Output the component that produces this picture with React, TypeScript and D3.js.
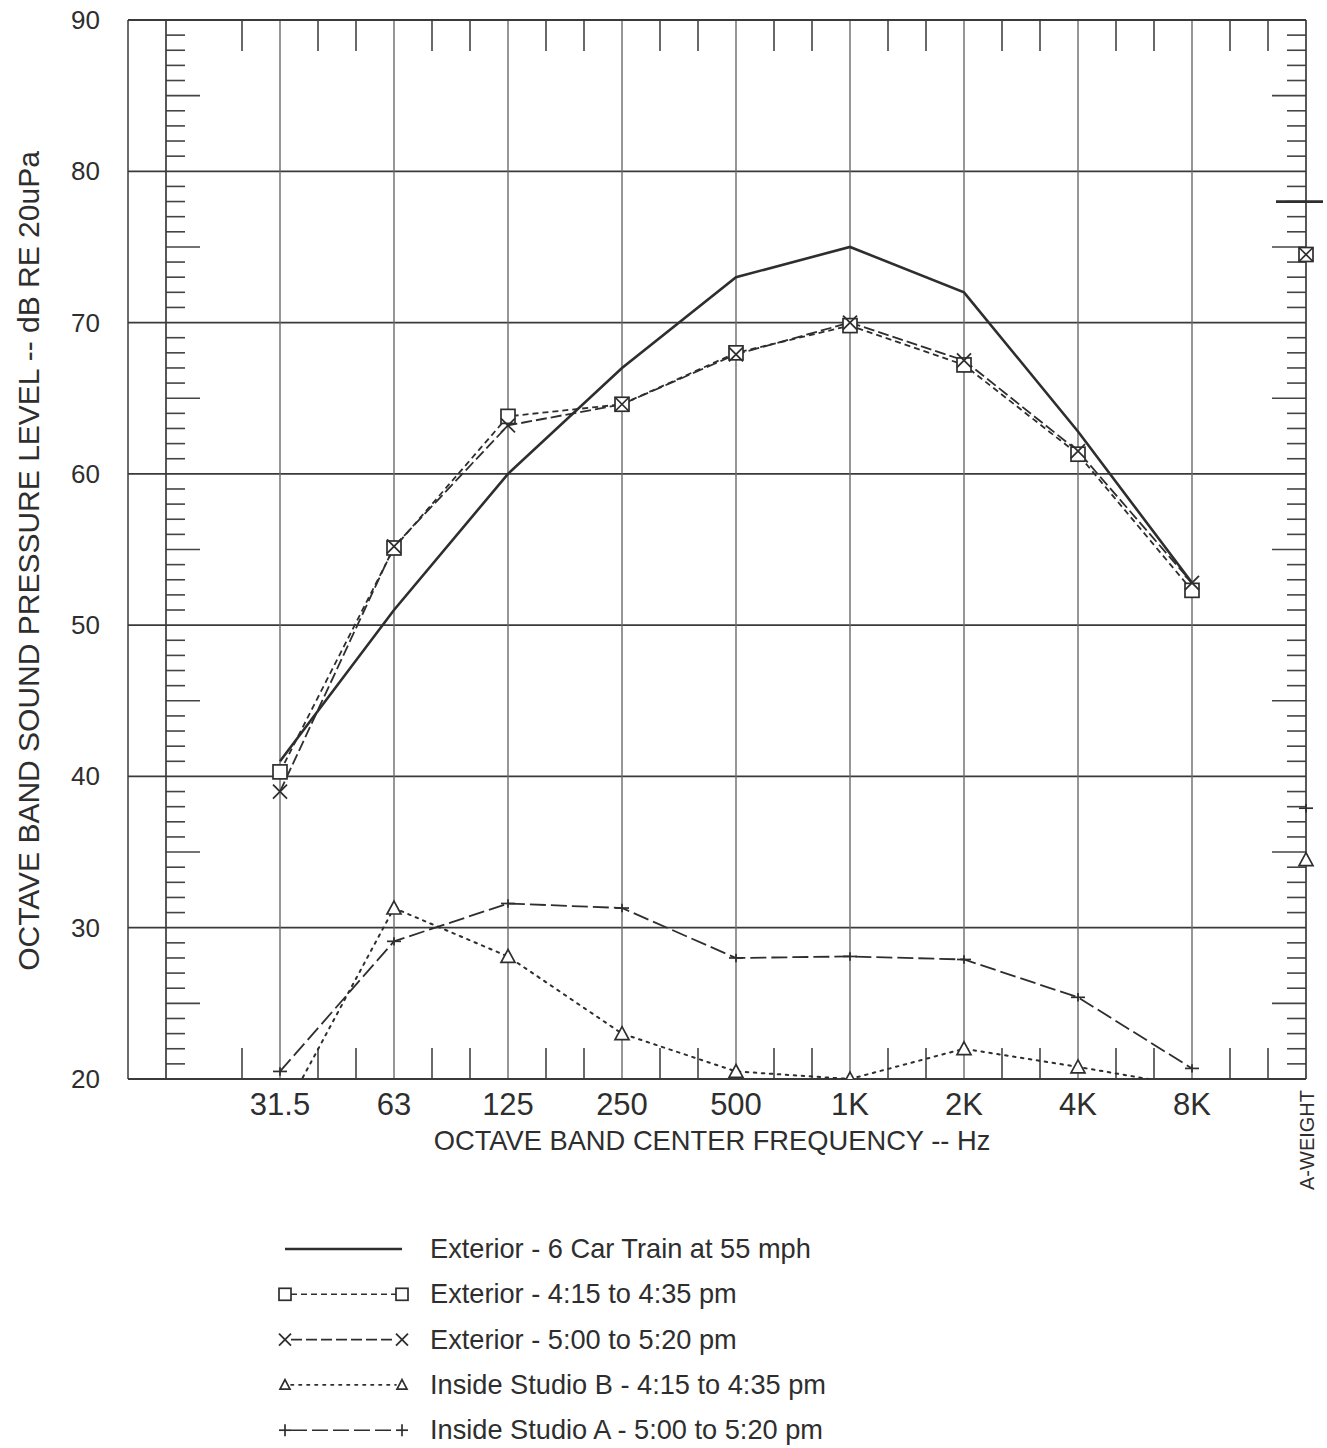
import React from 'react';
import * as d3 from 'd3';

// ---------- data ----------
const frequencies = ['31.5', '63', '125', '250', '500', '1K', '2K', '4K', '8K'];
const trainExterior = [41.0, 51.0, 60.0, 67.0, 73.0, 75.0, 72.0, 62.8, 52.8];
const exterior415 = [40.3, 55.1, 63.8, 64.6, 68.0, 69.8, 67.2, 61.3, 52.3];
const exterior500 = [39.0, 55.2, 63.2, 64.6, 67.9, 70.0, 67.5, 61.5, 52.8];
const studioB415 = [17.3, 31.3, 28.1, 23.0, 20.5, 20.0, 22.0, 20.8, 19.5];
const studioA500 = [20.5, 29.1, 31.6, 31.3, 28.0, 28.1, 27.9, 25.4, 20.7];
// A-weighted overall levels (same order as series)
const aWeightValues = [78.0, 74.5, 74.5, 34.5, 37.9];
const yTickValues = [20, 30, 40, 50, 60, 70, 80, 90];
const seriesNames = [
  'Exterior - 6 Car Train at 55 mph',
  'Exterior - 4:15 to 4:35 pm',
  'Exterior - 5:00 to 5:20 pm',
  'Inside Studio B - 4:15 to 4:35 pm',
  'Inside Studio A - 5:00 to 5:20 pm',
];
const seriesValues = [trainExterior, exterior415, exterior500, studioB415, studioA500];
const seriesMarkers = ['none', 'square', 'cross', 'triangle', 'plus'];
const seriesDashes = [null, '6,4', '11,4', '2.5,5.5', '16,5'];

// ---------- layout ----------
const W = 1327;
const H = 1448;
const outerLeft = 128;
const innerLeft = 166;
const right = 1306;
const top = 20;
const bottom = 1079;
const INK = '#2e2e2e';
const FONT = '"Liberation Sans", Arial, Helvetica, sans-serif';

const x = d3.scaleLinear().domain([-1, 9]).range([innerLeft, right]);
const y = d3.scaleLinear().domain([20, 90]).range([bottom, top]);
const aWeightIndex = 9;

function Marker({ type, cx, cy, s = 7, legend = false }: any) {
  const sw = 1.7;
  if (type === 'square') {
    return <rect x={cx - s} y={cy - s} width={2 * s} height={2 * s} fill="white" stroke={INK} strokeWidth={sw} />;
  }
  if (type === 'cross') {
    return (
      <g stroke={INK} strokeWidth={sw}>
        <line x1={cx - s} y1={cy - s} x2={cx + s} y2={cy + s} />
        <line x1={cx - s} y1={cy + s} x2={cx + s} y2={cy - s} />
      </g>
    );
  }
  if (type === 'triangle') {
    const h = s * 1.7;
    return (
      <path
        d={`M${cx},${cy - h / 2 - 1}L${cx + s},${cy + h / 2}L${cx - s},${cy + h / 2}Z`}
        fill="white"
        stroke={INK}
        strokeWidth={sw}
      />
    );
  }
  if (type === 'plus') {
    return (
      <g stroke={INK} strokeWidth={sw}>
        <line x1={cx - s} y1={cy} x2={cx + s} y2={cy} />
        <line x1={cx} y1={cy - (legend ? s : s * 0.6)} x2={cx} y2={cy + (legend ? s : s * 0.6)} />
      </g>
    );
  }
  return null;
}

export default function App() {
  const line = d3
    .line<number>()
    .x((_, i) => x(i))
    .y((d) => y(d));

  const thirdTicks: number[] = [];
  for (let k = -1; k <= 26; k++) if (k % 3 !== 0) thirdTicks.push(k / 3);
  const dbTicks: number[] = [];
  for (let v = 21; v <= 89; v++) if (v % 10 !== 0) dbTicks.push(v);

  const legendRowY = (i: number) => 1249 + i * 45.3;
  const lx1 = 285;
  const lx2 = 402;

  return (
    <svg
      width={W}
      height={H}
      style={{ position: 'absolute', left: 0, top: 0, background: 'white' }}
      fontFamily={FONT}
    >
      <defs>
        <clipPath id="plotClip">
          <rect x={outerLeft} y={top} width={right - outerLeft} height={bottom - top} />
        </clipPath>
      </defs>
      <rect x={0} y={0} width={W} height={H} fill="white" />

      {/* horizontal grid */}
      {yTickValues.slice(1, -1).map((v) => (
        <line key={'hg' + v} x1={outerLeft} x2={right} y1={y(v)} y2={y(v)} stroke="#3a3a3a" strokeWidth={1.8} />
      ))}
      {/* vertical grid */}
      {frequencies.map((f, i) => (
        <line key={'vg' + f} x1={x(i)} x2={x(i)} y1={top} y2={bottom} stroke="#6a6a6a" strokeWidth={1.4} />
      ))}
      {/* third-octave ticks */}
      {thirdTicks.map((t) => (
        <g key={'tt' + t} stroke="#444" strokeWidth={1.6}>
          <line x1={x(t)} x2={x(t)} y1={top} y2={top + 31} />
          <line x1={x(t)} x2={x(t)} y1={bottom - 31} y2={bottom} />
        </g>
      ))}
      {/* dB ticks left and right */}
      {dbTicks.map((v) => {
        const len = v % 5 === 0 ? 34 : 19;
        return (
          <g key={'dt' + v} stroke="#444" strokeWidth={1.6}>
            <line x1={innerLeft} x2={innerLeft + len} y1={y(v)} y2={y(v)} />
            <line x1={right - len} x2={right} y1={y(v)} y2={y(v)} />
          </g>
        );
      })}
      {/* frame */}
      <g stroke="#3a3a3a" fill="none">
        <line x1={outerLeft} x2={right} y1={top} y2={top} strokeWidth={2} />
        <line x1={outerLeft} x2={right} y1={bottom} y2={bottom} strokeWidth={2} />
        <line x1={outerLeft} x2={outerLeft} y1={top} y2={bottom} strokeWidth={1.5} />
        <line x1={innerLeft} x2={innerLeft} y1={top} y2={bottom} strokeWidth={1.7} />
        <line x1={right} x2={right} y1={top} y2={bottom} strokeWidth={1.7} />
      </g>

      {/* series lines */}
      <g clipPath="url(#plotClip)" fill="none" stroke={INK}>
        {seriesValues.map((vals, si) => (
          <path
            key={'s' + si}
            d={line(vals) || ''}
            strokeWidth={si === 0 ? 2.6 : si === 3 ? 2 : 1.8}
            strokeDasharray={seriesDashes[si] || undefined}
            strokeLinecap={si === 3 ? 'round' : 'butt'}
          />
        ))}
      </g>
      {/* series markers */}
      <g clipPath="url(#plotClip)">
        {seriesValues.map((vals, si) =>
          vals.map((v, i) => <Marker key={'m' + si + '-' + i} type={seriesMarkers[si]} cx={x(i)} cy={y(v)} />)
        )}
      </g>

      {/* A-weight values */}
      <g>
        <line
          x1={x(aWeightIndex) - 30}
          x2={x(aWeightIndex) + 17}
          y1={y(aWeightValues[0])}
          y2={y(aWeightValues[0])}
          stroke={INK}
          strokeWidth={2.8}
        />
        {aWeightValues.map((v, si) =>
          si === 0 ? null : <Marker key={'aw' + si} type={seriesMarkers[si]} cx={x(aWeightIndex)} cy={y(v)} />
        )}
      </g>

      {/* y tick labels */}
      {yTickValues.map((v) => (
        <text key={'yl' + v} x={100} y={y(v) + 9} textAnchor="end" fontSize={26} fill={INK}>
          {v}
        </text>
      ))}
      {/* x tick labels */}
      {frequencies.map((f, i) => (
        <text key={'xl' + f} x={x(i)} y={1115} textAnchor="middle" fontSize={31} fill={INK}>
          {f}
        </text>
      ))}
      <text x={712} y={1150} textAnchor="middle" fontSize={27.3} fill={INK}>
        OCTAVE BAND CENTER FREQUENCY -- Hz
      </text>
      <text
        transform={`translate(39,561) rotate(-90)`}
        textAnchor="middle"
        fontSize={30}
        fill={INK}
      >
        OCTAVE BAND SOUND PRESSURE LEVEL -- dB RE 20uPa
      </text>
      <text transform={`translate(1314,1140) rotate(-90)`} textAnchor="middle" fontSize={20} fill={INK}>
        A-WEIGHT
      </text>

      {/* legend */}
      {seriesNames.map((name, si) => {
        const ly = legendRowY(si);
        return (
          <g key={'lg' + si}>
            <line
              x1={lx1 + (si === 0 ? 0 : 6)}
              x2={lx2 - (si === 0 ? 0 : 6)}
              y1={ly}
              y2={ly}
              stroke={INK}
              strokeWidth={si === 0 ? 2.4 : 1.6}
              strokeDasharray={seriesDashes[si] || undefined}
              strokeLinecap={si === 3 ? 'round' : 'butt'}
            />
            <Marker type={seriesMarkers[si]} cx={lx1} cy={ly} s={si === 3 ? 5 : 6} legend />
            <Marker type={seriesMarkers[si]} cx={lx2} cy={ly} s={si === 3 ? 5 : 6} legend />
            <text x={430} y={ly + 9} fontSize={27.2} fill={INK}>
              {name}
            </text>
          </g>
        );
      })}
    </svg>
  );
}
